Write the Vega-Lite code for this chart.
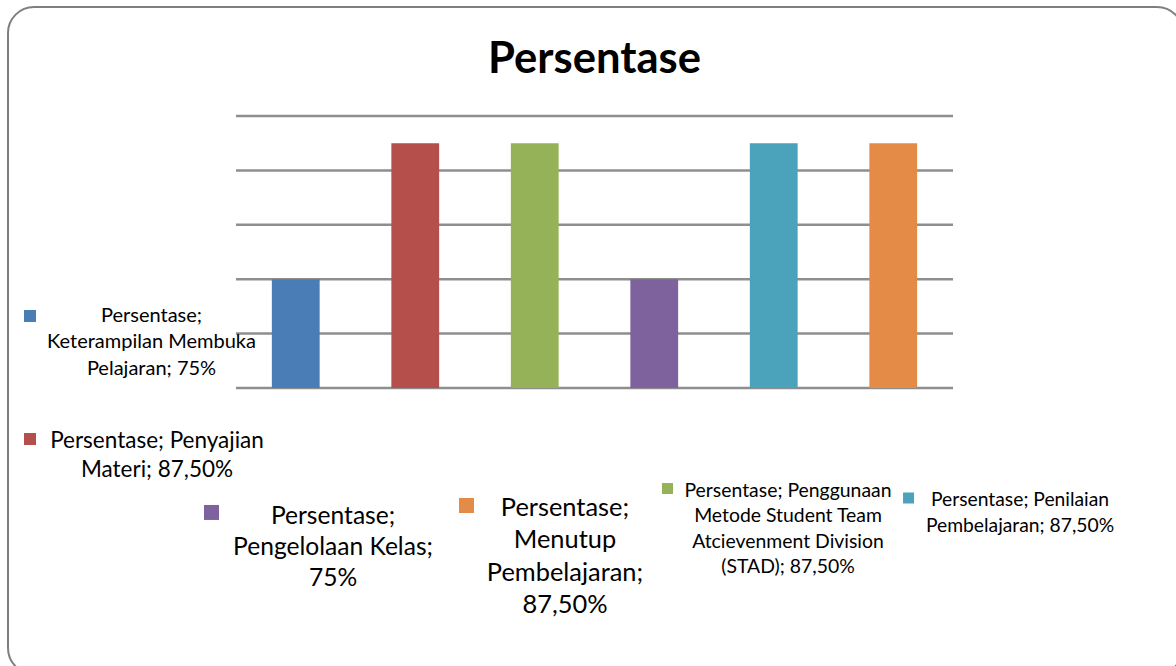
{
  "$schema": "https://vega.github.io/schema/vega-lite/v6.json",
  "width": 1176,
  "height": 666,
  "autosize": {"type": "fit", "contains": "padding"},
  "padding": {"left": 8, "top": 7, "right": -7, "bottom": -8},
  "background": "white",
  "config": {
    "view": {"stroke": "#7f7f7f", "strokeWidth": 2, "cornerRadius": 26},
    "text": {"lineBreak": "\n"}
  },
  "datasets": {
    "nilai": [
      {"kategori": "Keterampilan Membuka Pelajaran", "persen": 75, "label": "Persentase;\nKeterampilan Membuka\nPelajaran; 75%"},
      {"kategori": "Penyajian Materi", "persen": 87.5, "label": "Persentase; Penyajian\nMateri; 87,50%"},
      {"kategori": "Penggunaan Metode Student Team Atcievenment Division (STAD)", "persen": 87.5, "label": "Persentase; Penggunaan\nMetode Student Team\nAtcievenment Division\n(STAD); 87,50%"},
      {"kategori": "Pengelolaan Kelas", "persen": 75, "label": "Persentase;\nPengelolaan Kelas;\n75%"},
      {"kategori": "Penilaian Pembelajaran", "persen": 87.5, "label": "Persentase; Penilaian\nPembelajaran; 87,50%"},
      {"kategori": "Menutup Pembelajaran", "persen": 87.5, "label": "Persentase;\nMenutup\nPembelajaran;\n87,50%"}
    ],
    "garis": [
      {"tick": 65}, {"tick": 70}, {"tick": 75}, {"tick": 80}, {"tick": 85}, {"tick": 90}
    ],
    "judul": [{"judul": "Persentase"}]
  },
  "data": {"name": "nilai"},
  "resolve": {"scale": {"x": "independent"}},
  "layer": [
    {
      "data": {"name": "garis"},
      "mark": {"type": "rule", "color": "#8e8e8e", "strokeWidth": 2.5},
      "encoding": {
        "x": {"datum": 0, "type": "quantitative", "scale": {"domain": [0, 6], "range": [228, 945], "nice": false, "zero": false}, "axis": null},
        "x2": {"datum": 6},
        "y": {"field": "tick", "type": "quantitative", "scale": {"domain": [65, 90], "range": [381, 109], "nice": false, "zero": false}, "axis": null}
      }
    },
    {
      "mark": {"type": "bar"},
      "encoding": {
        "x": {"field": "kategori", "type": "nominal", "sort": null, "scale": {"range": [228, 945], "paddingInner": 0.6, "paddingOuter": 0.3}, "axis": null},
        "y": {"field": "persen", "type": "quantitative", "scale": {"domain": [65, 90], "range": [381, 109], "nice": false, "zero": false}, "axis": null},
        "y2": {"datum": 65},
        "color": {
          "field": "kategori", "type": "nominal", "legend": null,
          "scale": {
            "domain": ["Keterampilan Membuka Pelajaran", "Penyajian Materi", "Penggunaan Metode Student Team Atcievenment Division (STAD)", "Pengelolaan Kelas", "Penilaian Pembelajaran", "Menutup Pembelajaran"],
            "range": ["#4a7cb6", "#b44f4c", "#96b258", "#7e629e", "#4aa2bb", "#e48b48"]
          }
        }
      }
    },
    {
      "data": {"name": "judul"},
      "mark": {"type": "text", "font": "Lato", "fontSize": 43.6, "fontWeight": "bold", "align": "center", "baseline": "alphabetic", "color": "#000000"},
      "encoding": {
        "x": {"datum": 3, "type": "quantitative", "scale": {"domain": [0, 6], "range": [228, 945], "nice": false, "zero": false}, "axis": null},
        "y": {"datum": 93.95, "type": "quantitative"},
        "text": {"field": "judul", "type": "nominal"}
      }
    },
    {
      "encoding": {
        "color": {"field": "kategori", "type": "nominal", "legend": null},
        "text": {"field": "label", "type": "nominal"}
      },
      "layer": [
        {
          "transform": [{"filter": {"field": "kategori", "equal": "Keterampilan Membuka Pelajaran"}}],
          "mark": {"type": "point", "shape": "square", "filled": true, "size": 144, "opacity": 1, "strokeWidth": 0},
          "encoding": {
            "x": {"datum": -1.724, "type": "quantitative", "scale": {"domain": [0, 6], "range": [228, 945], "nice": false, "zero": false}, "axis": null},
            "y": {"datum": 71.62, "type": "quantitative"}
          }
        },
        {
          "transform": [{"filter": {"field": "kategori", "equal": "Keterampilan Membuka Pelajaran"}}],
          "mark": {"type": "text", "font": "Lato", "fontSize": 20, "lineHeight": 26.5, "align": "center", "baseline": "middle"},
          "encoding": {
            "color": {"value": "#000000"},
            "x": {"datum": -0.707, "type": "quantitative"},
            "y": {"datum": 71.62, "type": "quantitative"}
          }
        },
        {
          "transform": [{"filter": {"field": "kategori", "equal": "Penyajian Materi"}}],
          "mark": {"type": "point", "shape": "square", "filled": true, "size": 144, "opacity": 1, "strokeWidth": 0},
          "encoding": {
            "x": {"datum": -1.724, "type": "quantitative"},
            "y": {"datum": 60.31, "type": "quantitative"}
          }
        },
        {
          "transform": [{"filter": {"field": "kategori", "equal": "Penyajian Materi"}}],
          "mark": {"type": "text", "font": "Lato", "fontSize": 22.5, "lineHeight": 29, "align": "center", "baseline": "middle"},
          "encoding": {
            "color": {"value": "#000000"},
            "x": {"datum": -0.661, "type": "quantitative"},
            "y": {"datum": 60.13, "type": "quantitative"}
          }
        },
        {
          "transform": [{"filter": {"field": "kategori", "equal": "Pengelolaan Kelas"}}],
          "mark": {"type": "point", "shape": "square", "filled": true, "size": 225, "opacity": 1, "strokeWidth": 0},
          "encoding": {
            "x": {"datum": -0.205, "type": "quantitative"},
            "y": {"datum": 53.56, "type": "quantitative"}
          }
        },
        {
          "transform": [{"filter": {"field": "kategori", "equal": "Pengelolaan Kelas"}}],
          "mark": {"type": "text", "font": "Lato", "fontSize": 24.6, "lineHeight": 31, "align": "center", "baseline": "middle"},
          "encoding": {
            "color": {"value": "#000000"},
            "x": {"datum": 0.812, "type": "quantitative"},
            "y": {"datum": 53.14, "type": "quantitative"}
          }
        },
        {
          "transform": [{"filter": {"field": "kategori", "equal": "Menutup Pembelajaran"}}],
          "mark": {"type": "point", "shape": "square", "filled": true, "size": 225, "opacity": 1, "strokeWidth": 0},
          "encoding": {
            "x": {"datum": 1.929, "type": "quantitative"},
            "y": {"datum": 54.2, "type": "quantitative"}
          }
        },
        {
          "transform": [{"filter": {"field": "kategori", "equal": "Menutup Pembelajaran"}}],
          "mark": {"type": "text", "font": "Lato", "fontSize": 25.4, "lineHeight": 32.3, "align": "center", "baseline": "middle"},
          "encoding": {
            "color": {"value": "#000000"},
            "x": {"datum": 2.753, "type": "quantitative"},
            "y": {"datum": 53.97, "type": "quantitative"}
          }
        },
        {
          "transform": [{"filter": {"field": "kategori", "equal": "Penggunaan Metode Student Team Atcievenment Division (STAD)"}}],
          "mark": {"type": "point", "shape": "square", "filled": true, "size": 121, "opacity": 1, "strokeWidth": 0},
          "encoding": {
            "x": {"datum": 3.611, "type": "quantitative"},
            "y": {"datum": 55.76, "type": "quantitative"}
          }
        },
        {
          "transform": [{"filter": {"field": "kategori", "equal": "Penggunaan Metode Student Team Atcievenment Division (STAD)"}}],
          "mark": {"type": "text", "font": "Lato", "fontSize": 19.4, "lineHeight": 25.3, "align": "center", "baseline": "middle"},
          "encoding": {
            "color": {"value": "#000000"},
            "x": {"datum": 4.619, "type": "quantitative"},
            "y": {"datum": 55.53, "type": "quantitative"}
          }
        },
        {
          "transform": [{"filter": {"field": "kategori", "equal": "Penilaian Pembelajaran"}}],
          "mark": {"type": "point", "shape": "square", "filled": true, "size": 121, "opacity": 1, "strokeWidth": 0},
          "encoding": {
            "x": {"datum": 5.628, "type": "quantitative"},
            "y": {"datum": 54.89, "type": "quantitative"}
          }
        },
        {
          "transform": [{"filter": {"field": "kategori", "equal": "Penilaian Pembelajaran"}}],
          "mark": {"type": "text", "font": "Lato", "fontSize": 19.3, "lineHeight": 26, "align": "center", "baseline": "middle"},
          "encoding": {
            "color": {"value": "#000000"},
            "x": {"datum": 6.561, "type": "quantitative"},
            "y": {"datum": 54.71, "type": "quantitative"}
          }
        }
      ]
    }
  ]
}
